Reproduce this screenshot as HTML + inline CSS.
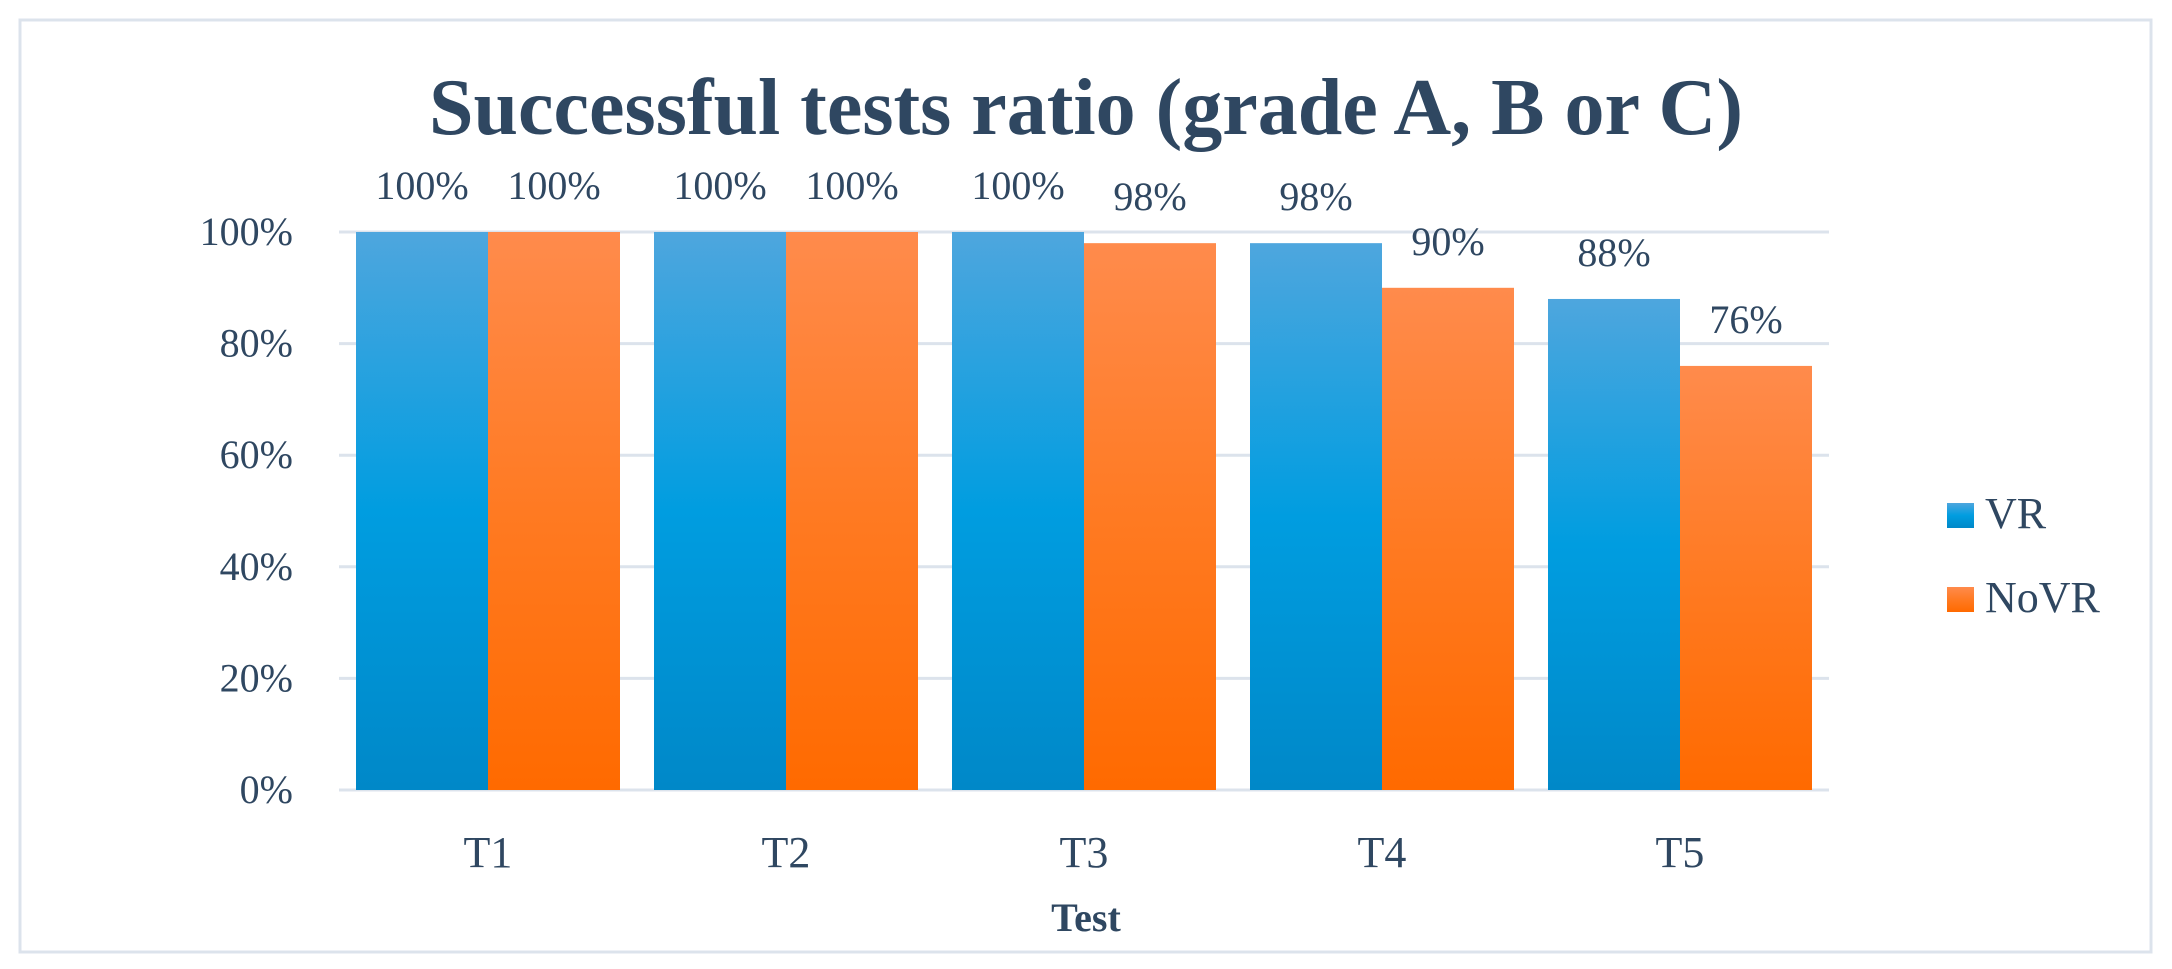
<!DOCTYPE html>
<html><head><meta charset="utf-8"><style>
html,body{margin:0;padding:0;background:#fff;}
svg{display:block;}
text{font-family:"Liberation Serif",serif;fill:#2f4761;}
</style></head><body>
<svg id="chart" width="2172" height="969" viewBox="0 0 2172 969" xmlns="http://www.w3.org/2000/svg">
<defs>
<linearGradient id="gBlue" x1="0" y1="0" x2="0" y2="1">
<stop offset="0" stop-color="#4ea6de"/><stop offset="0.5" stop-color="#009de0"/><stop offset="1" stop-color="#0088c8"/>
</linearGradient>
<linearGradient id="gOrange" x1="0" y1="0" x2="0" y2="1">
<stop offset="0" stop-color="#ff8b4c"/><stop offset="0.5" stop-color="#ff7a22"/><stop offset="1" stop-color="#ff6a00"/>
</linearGradient>
</defs>
<rect x="20" y="20" width="2131" height="932" fill="#fff" stroke="#dce3ec" stroke-width="3"/>
<text x="1086" y="134" text-anchor="middle" font-size="80" font-weight="bold">Successful tests ratio (grade A, B or C)</text>
<g id="grid"></g>
<g id="bars"></g>
<g id="labels"></g>
<text x="1086" y="931" text-anchor="middle" font-size="40" font-weight="bold">Test</text>
<g>
<rect x="1947" y="503" width="27" height="25" fill="url(#gBlue)"/>
<text x="1985" y="528" font-size="44">VR</text>
<rect x="1947" y="587" width="27" height="25" fill="url(#gOrange)"/>
<text x="1985" y="612" font-size="44">NoVR</text>
</g>
</svg>
<script>
const categories = ["T1","T2","T3","T4","T5"];
const vrValues = [100,100,100,98,88];
const novrValues = [100,100,98,90,76];
const yTicks = [0,20,40,60,80,100];

const NS="http://www.w3.org/2000/svg";
const plotL=339, plotR=1829, yTop=232, yBot=790;
const catW=(plotR-plotL)/categories.length;
const barW=132;
function y(v){return yBot-(v/100)*(yBot-yTop);}
function xCat(i){return plotL+catW*i+catW/2;}
function mk(tag,attrs,parent){const e=document.createElementNS(NS,tag);for(const k in attrs)e.setAttribute(k,attrs[k]);parent.appendChild(e);return e;}
const grid=document.getElementById('grid'),bars=document.getElementById('bars'),labels=document.getElementById('labels');
yTicks.forEach(t=>{
  const l=mk('line',{x1:plotL,x2:plotR,y1:y(t),y2:y(t),stroke:'#dce3ec','stroke-width':3},grid);
  
  
  const tx=mk('text',{x:293,y:y(t)+13,'text-anchor':'end','font-size':40},grid);
  tx.textContent=t+'%';
  
  
});
categories.forEach((c,i)=>{
  const cx=xCat(i);
  [[vrValues[i],cx-barW,'url(#gBlue)','vr'],[novrValues[i],cx,'url(#gOrange)','novr']].forEach(([v,x,f,s])=>{
    const r=mk('rect',{x:x,y:y(v),width:barW,height:yBot-y(v),fill:f},bars);
    
    
    const t=mk('text',{x:x+barW/2,y:y(v)-33,'text-anchor':'middle','font-size':40},labels);
    t.textContent=v+'%';
    
    
  });
  const t=mk('text',{x:cx,y:867,'text-anchor':'middle','font-size':44},labels);
  t.textContent=c;
  
  
});
</script>
</body></html>
